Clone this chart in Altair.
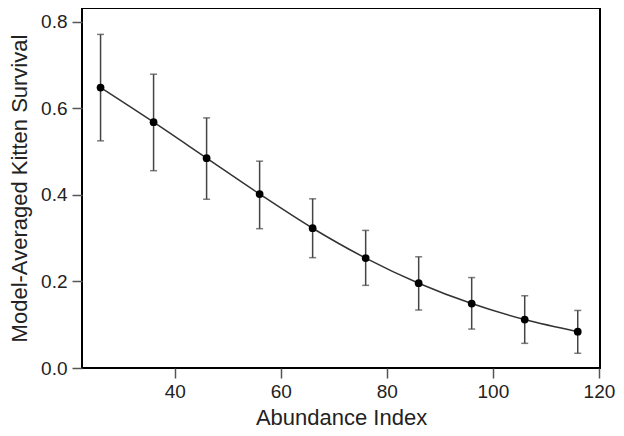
import altair as alt
import pandas as pd

abundance = [26, 36, 46, 56, 66, 76, 86, 96, 106, 116]
survival = [0.648, 0.568, 0.485, 0.402, 0.323, 0.254, 0.196, 0.149, 0.112, 0.084]
upper = [0.771, 0.679, 0.578, 0.478, 0.391, 0.318, 0.257, 0.209, 0.167, 0.133]
lower = [0.525, 0.456, 0.390, 0.322, 0.255, 0.191, 0.134, 0.090, 0.057, 0.034]

df = pd.DataFrame({"x": abundance, "y": survival, "hi": upper, "lo": lower})

FONT = "Liberation Sans"

xs = alt.Scale(domain=[22.5, 120.2], nice=False, zero=False)
ys = alt.Scale(domain=[0, 0.832], nice=False, zero=False)

xax = alt.Axis(title="Abundance Index", values=[40, 60, 80, 100, 120], format="d",
               grid=False, domain=False, tickSize=10, tickColor="#555", tickWidth=1.5,
               labelFontSize=19, labelColor="#222", labelFont=FONT, labelPadding=4,
               titleFontSize=22, titleFont=FONT, titleFontWeight="normal", titleColor="#222",
               titleBaseline="alphabetic", titleY=56)
yax = alt.Axis(title="Model-Averaged Kitten Survival", values=[0, 0.2, 0.4, 0.6, 0.8], format=".1f",
               grid=False, domain=False, tickSize=10, tickColor="#555", tickWidth=1.5,
               labelFontSize=19, labelColor="#222", labelFont=FONT, labelPadding=5,
               titleFontSize=22, titleFont=FONT, titleFontWeight="normal", titleColor="#222",
               titleBaseline="alphabetic", titleX=-56)

base = alt.Chart(df)

line = base.mark_line(color="#333", strokeWidth=1.5, interpolate="monotone").encode(
    x=alt.X("x:Q", scale=xs, axis=xax),
    y=alt.Y("y:Q", scale=ys, axis=yax),
)
bars = base.mark_rule(color="#444", strokeWidth=1.5).encode(
    x=alt.X("x:Q", scale=xs), y=alt.Y("lo:Q", scale=ys), y2="hi:Q"
)
caps_hi = base.mark_tick(color="#444", orient="horizontal", size=7, thickness=1.5).encode(
    x=alt.X("x:Q", scale=xs), y=alt.Y("hi:Q", scale=ys)
)
caps_lo = base.mark_tick(color="#444", orient="horizontal", size=7, thickness=1.5).encode(
    x=alt.X("x:Q", scale=xs), y=alt.Y("lo:Q", scale=ys)
)
pts = base.mark_circle(color="#000", size=60, opacity=1).encode(
    x=alt.X("x:Q", scale=xs), y=alt.Y("y:Q", scale=ys)
)

chart = alt.layer(line, bars, caps_hi, caps_lo, pts).properties(
    width=518, height=360,
    autosize=alt.AutoSizeParams(type="none"),
    padding={"left": 74, "top": 0, "right": 16, "bottom": 61},
    background="white",
).configure_view(stroke="#000", strokeWidth=2)

chart.save("out.html", embed_options={"renderer": "svg", "actions": False})
